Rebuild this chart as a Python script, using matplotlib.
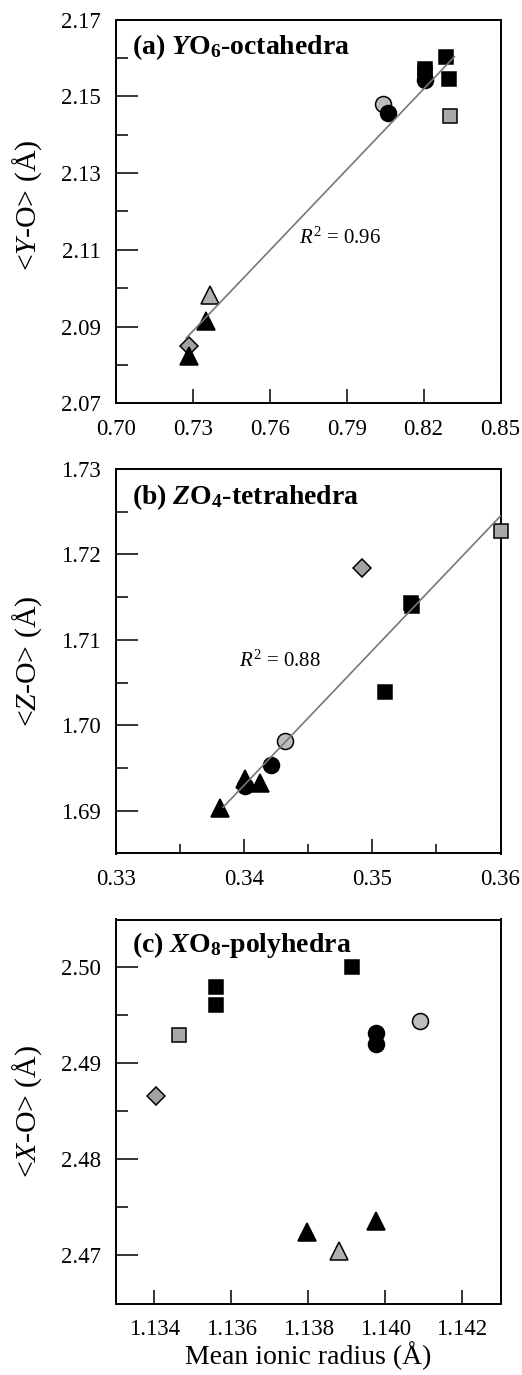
import numpy as np
import matplotlib
matplotlib.use("Agg")
import matplotlib.pyplot as plt
from matplotlib.ticker import FixedLocator

plt.rcParams['font.family'] = ['Liberation Serif', 'DejaVu Serif']
plt.rcParams['mathtext.fontset'] = 'custom'
plt.rcParams['mathtext.rm'] = 'Liberation Serif'
plt.rcParams['mathtext.it'] = 'Liberation Serif:italic'
plt.rcParams['mathtext.bf'] = 'Liberation Serif:bold'
plt.rcParams['mathtext.bfit'] = 'Liberation Serif:italic:bold'

# ---------------- data ----------------
# Panel (a): YO6-octahedra
a_sq_black_x = [0.8288, 0.8207, 0.8207, 0.8300]
a_sq_black_y = [2.1603, 2.1571, 2.1561, 2.1546]
a_sq_gray_x = [0.8304]
a_sq_gray_y = [2.1448]
a_dia_gray_x = [0.7283]
a_dia_gray_y = [2.0848]
a_circ_gray_x = [0.8041]
a_circ_gray_y = [2.1480]
a_circ_black_x = [0.8063, 0.8204]
a_circ_black_y = [2.1457, 2.1542]
a_tri_gray_x = [0.7368]
a_tri_gray_y = [2.0983]
a_tri_black_x = [0.7352, 0.7284]
a_tri_black_y = [2.0915, 2.0822]
a_fit_x = [0.7274, 0.8320]
a_fit_y = [2.0870, 2.1603]

# Panel (b): ZO4-tetrahedra
b_sq_black_x = [0.3530, 0.3531, 0.3510]
b_sq_black_y = [1.7143, 1.7140, 1.7039]
b_sq_gray_x = [0.3600]
b_sq_gray_y = [1.7227]
b_dia_gray_x = [0.3492]
b_dia_gray_y = [1.7184]
b_circ_gray_x = [0.3432]
b_circ_gray_y = [1.6982]
b_tri_black_x = [0.3401, 0.3412, 0.3381]
b_tri_black_y = [1.6937, 1.6932, 1.6903]
b_circ_black_x = [0.3421, 0.3401]
b_circ_black_y = [1.6954, 1.6929]
b_fit_x = [0.33835, 0.3600]
b_fit_y = [1.6904, 1.7245]

# Panel (c): XO8-polyhedra
c_sq_black_x = [1.13559, 1.13559, 1.13915]
c_sq_black_y = [2.4980, 2.4961, 2.5001]
c_sq_gray_x = [1.13463]
c_sq_gray_y = [2.4930]
c_dia_gray_x = [1.13403]
c_dia_gray_y = [2.4866]
c_circ_gray_x = [1.14091]
c_circ_gray_y = [2.4944]
c_circ_black_x = [1.13975, 1.13975]
c_circ_black_y = [2.4932, 2.4920]
c_tri_black_x = [1.13796, 1.13975]
c_tri_black_y = [2.4724, 2.4736]
c_tri_gray_x = [1.13881]
c_tri_gray_y = [2.4705]

a_xticks = [0.70, 0.73, 0.76, 0.79, 0.82, 0.85]
a_yticks = [2.07, 2.09, 2.11, 2.13, 2.15, 2.17]
b_xticks = [0.33, 0.34, 0.35, 0.36]
b_yticks = [1.69, 1.70, 1.71, 1.72, 1.73]
c_xticks = [1.134, 1.136, 1.138, 1.140, 1.142]
c_yticks = [2.47, 2.48, 2.49, 2.50]

# ---------------- styles ----------------
GRAY_SQ = '#a9a9a9'
GRAY_CI = '#bdbdbd'
GRAY_TR = '#b0b0b0'
GRAY_DI = '#a3a3a3'
MEW = 1.1

W, H = 522, 1375
fig = plt.figure(figsize=(W / 100, H / 100), dpi=100)
left, right = 116, 500.5
panels_px = [(19.5, 403.3), (469, 853.5), (919.5, 1303.5)]
axes = []
for top, bot in panels_px:
    ax = fig.add_axes([left / W, 1 - bot / H, (right - left) / W, (bot - top) / H])
    axes.append(ax)


def plot_set(ax, x, y, marker, face, ms):
    ax.plot(x, y, linestyle='none', marker=marker, markersize=ms,
            markerfacecolor=face, markeredgecolor='black',
            markeredgewidth=MEW, clip_on=False, zorder=3)


def draw(ax, d):
    plot_set(ax, d['sqb'][0], d['sqb'][1], 's', 'black', 10.5)
    plot_set(ax, d['sqg'][0], d['sqg'][1], 's', GRAY_SQ, 10.5)
    plot_set(ax, d['dia'][0], d['dia'][1], 'D', GRAY_DI, 9.5)
    plot_set(ax, d['cig'][0], d['cig'][1], 'o', GRAY_CI, 11.5)
    plot_set(ax, d['cib'][0], d['cib'][1], 'o', 'black', 11.5)
    if d.get('trg') is not None:
        plot_set(ax, d['trg'][0], d['trg'][1], '^', GRAY_TR, 12.5)
    plot_set(ax, d['trb'][0], d['trb'][1], '^', 'black', 12.5)


def style(ax, xlim, ylim, xticks, yticks, xminor, yminor, xfmt, yfmt):
    ax.set_xlim(*xlim)
    ax.set_ylim(*ylim)
    ax.xaxis.set_major_locator(FixedLocator(xticks))
    ax.yaxis.set_major_locator(FixedLocator(yticks))
    ax.set_xticklabels([xfmt.format(v) for v in xticks])
    ax.set_yticklabels([yfmt.format(v) for v in yticks])
    if xminor:
        ax.xaxis.set_minor_locator(FixedLocator(xminor))
    if yminor:
        ax.yaxis.set_minor_locator(FixedLocator(yminor))
    ax.tick_params(axis='both', which='both', direction='in', width=1.1,
                   labelsize=16.5, pad=11, top=False, right=False)
    ax.tick_params(axis='y', which='major', length=16)
    ax.tick_params(axis='y', which='minor', length=8.5)
    ax.tick_params(axis='x', which='major', length=10)
    ax.tick_params(axis='x', which='minor', length=6.5)
    for sp in ax.spines.values():
        sp.set_linewidth(1.4)


# Panel (a)
ax = axes[0]
ax.plot(a_fit_x, a_fit_y, color='#777777', lw=1.2, zorder=4)
draw(ax, dict(sqb=(a_sq_black_x, a_sq_black_y), sqg=(a_sq_gray_x, a_sq_gray_y),
              dia=(a_dia_gray_x, a_dia_gray_y), cig=(a_circ_gray_x, a_circ_gray_y),
              cib=(a_circ_black_x, a_circ_black_y), trg=(a_tri_gray_x, a_tri_gray_y),
              trb=(a_tri_black_x, a_tri_black_y)))
style(ax, (0.70, 0.85), (2.07, 2.17), a_xticks, a_yticks, None,
      [2.08, 2.10, 2.12, 2.14, 2.16], '{:.2f}', '{:.2f}')
ax.text(0.042, 0.927, r'(a) $\mathbfit{Y}$O$_\mathbf{6}$-octahedra', transform=ax.transAxes,
        fontsize=20, fontweight='bold', ha='left', va='center')
ax.text(0.7874, 2.113, r'$\mathit{R}^2$ = 0.96', fontsize=15, ha='center', va='center')
ax.set_ylabel(r'<$\mathit{Y}$-O> (Å)', fontsize=21.5, va='center')
ax.yaxis.set_label_coords(-0.230, 0.515)

# Panel (b)
ax = axes[1]
ax.plot(b_fit_x, b_fit_y, color='#777777', lw=1.2, zorder=4)
draw(ax, dict(sqb=(b_sq_black_x, b_sq_black_y), sqg=(b_sq_gray_x, b_sq_gray_y),
              dia=(b_dia_gray_x, b_dia_gray_y), cig=(b_circ_gray_x, b_circ_gray_y),
              cib=(b_circ_black_x, b_circ_black_y), trg=None,
              trb=(b_tri_black_x, b_tri_black_y)))
style(ax, (0.33, 0.36), (1.685, 1.73), b_xticks, b_yticks, [0.335, 0.345, 0.355],
      [1.695, 1.705, 1.715, 1.725], '{:.2f}', '{:.2f}')
ax.text(0.042, 0.928, r'(b) $\mathbfit{Z}$O$_\mathbf{4}$-tetrahedra', transform=ax.transAxes,
        fontsize=20, fontweight='bold', ha='left', va='center')
ax.text(0.3428, 1.70745, r'$\mathit{R}^2$ = 0.88', fontsize=15, ha='center', va='center')
ax.set_ylabel(r'<$\mathit{Z}$-O> (Å)', fontsize=21.5, va='center')
ax.yaxis.set_label_coords(-0.230, 0.5)

# Panel (c)
ax = axes[2]
draw(ax, dict(sqb=(c_sq_black_x, c_sq_black_y), sqg=(c_sq_gray_x, c_sq_gray_y),
              dia=(c_dia_gray_x, c_dia_gray_y), cig=(c_circ_gray_x, c_circ_gray_y),
              cib=(c_circ_black_x, c_circ_black_y), trg=(c_tri_gray_x, c_tri_gray_y),
              trb=(c_tri_black_x, c_tri_black_y)))
style(ax, (1.133, 1.143), (2.465, 2.505), c_xticks, c_yticks, None,
      [2.475, 2.485, 2.495], '{:.3f}', '{:.2f}')
ax.text(0.042, 0.934, r'(c) $\mathbfit{X}$O$_\mathbf{8}$-polyhedra', transform=ax.transAxes,
        fontsize=20, fontweight='bold', ha='left', va='center')
ax.set_ylabel(r'<$\mathit{X}$-O> (Å)', fontsize=21.5, va='center')
ax.yaxis.set_label_coords(-0.230, 0.5)
ax.set_xlabel('Mean ionic radius (Å)', fontsize=20, va='center')
ax.xaxis.set_label_coords(0.5, -0.137)

fig.savefig('out.png', dpi=100)
